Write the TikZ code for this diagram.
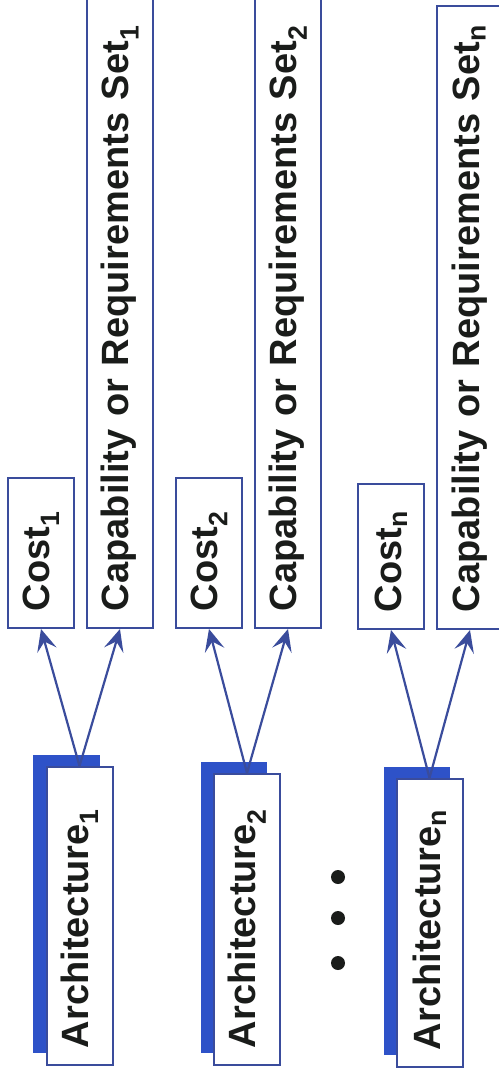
\documentclass[tikz,border=0pt]{standalone}
\usepackage{fontspec}
\setmainfont{Liberation Sans}
\usepackage{xcolor}
\usepackage{tikz}
\usetikzlibrary{positioning, calc, arrows.meta, shadows}
\definecolor{boxblue}{RGB}{58, 76, 156}
\definecolor{shadowblue}{RGB}{46, 82, 200}
\definecolor{textdark}{RGB}{26, 28, 26}

\tikzset{
    box/.style={draw=boxblue, line width=2bp, fill=white, rotate=90, minimum height=66bp,
        inner xsep=17bp, align=left, text=textdark, font=\fontsize{38bp}{44bp}\selectfont\bfseries},
    archbox/.style={box, general shadow={fill=shadowblue, shadow xshift=-13bp, shadow yshift=12bp}},
    link/.style={draw=boxblue, line width=2.2bp, -{Stealth[length=22bp, width=20bp, inset=9bp]}}
}

\begin{document}
\begin{tikzpicture}[x=1bp, y=1bp]
        \useasboundingbox (0,0) rectangle (499,-1080);
        \clip (0,0) rectangle (499,-1080);

        % architectures
        \node[archbox, text width=264bp] (arch1) at (79.5,-916) {Architecture\textsubscript{1}};
        \node[archbox, text width=257bp] (arch2) at (247,-919.5) {Architecture\textsubscript{2}};
        \node[archbox, text width=254bp] (archn) at (429.5,-923) {Architecture\textsubscript{n}};

        % costs
        \node[box, text width=116bp] (cost1) at (41,-553) {Cost\textsubscript{1}};
        \node[box, text width=116bp] (cost2) at (209,-553) {Cost\textsubscript{2}};
        \node[box, text width=111bp] (costn) at (391,-556.5) {Cost\textsubscript{n}};

        % capability / requirements
        \node[box, text width=597bp] (cap1) at (120,-312.5) {Capability or Requirements Set\textsubscript{1}};
        \node[box, text width=597bp] (cap2) at (288,-312.5) {Capability or Requirements Set\textsubscript{2}};
        \node[box, text width=589bp] (capn) at (470,-317.5) {Capability or Requirements Set\textsubscript{n}};

        \draw[link] (arch1.east) -- (cost1.west);
        \draw[link] (arch1.east) -- (cap1.west);
        \draw[link] (arch2.east) -- (cost2.west);
        \draw[link] (arch2.east) -- (cap2.west);
        \draw[link] (archn.east) -- (costn.west);
        \draw[link] (archn.east) -- (capn.west);

        % dots
        \fill[textdark] (338,-877) circle (7) (338,-918) circle (7) (338,-963) circle (7);
    \end{tikzpicture}
\end{document}
